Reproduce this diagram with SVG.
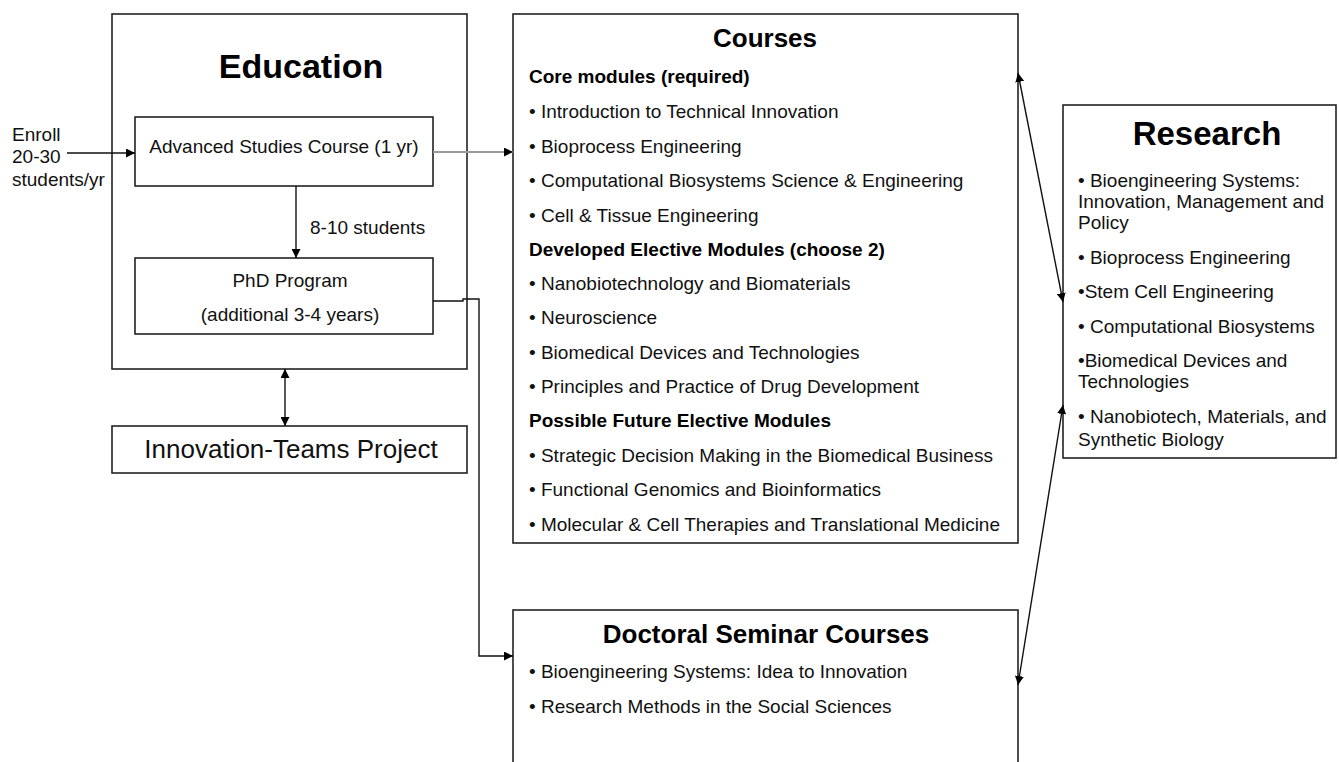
<svg xmlns="http://www.w3.org/2000/svg" width="1339" height="762" viewBox="0 0 1339 762">
<style>
.box{fill:#fff;stroke:#222;stroke-width:1.6}
.t{font-family:"Liberation Sans",Arial,sans-serif;font-size:19px;fill:#111}
.b{font-family:"Liberation Sans",Arial,sans-serif;font-weight:bold;fill:#000}
.c{text-anchor:middle}
.ln{fill:none;stroke:#111;stroke-width:1.4}
</style>
<defs>
<marker id="ah" viewBox="0 0 10 10" refX="10" refY="5" markerWidth="9" markerHeight="9" markerUnits="userSpaceOnUse" orient="auto-start-reverse">
<path d="M0,0 L10,5 L0,10 z" fill="#000"/>
</marker>
</defs>
<rect width="1339" height="762" fill="#fff"/>

<g id="enroll">
<text class="t" x="12" y="141">Enroll</text>
<text class="t" x="12" y="163">20-30</text>
<text class="t" x="12" y="186">students/yr</text>
</g>

<g id="education">
<rect class="box" x="112" y="14" width="355" height="355"/>
<text class="b c" x="301" y="78" font-size="34">Education</text>
</g>
<g id="advanced">
<rect class="box" x="135" y="117" width="298" height="69"/>
<text class="t c" x="284" y="153">Advanced Studies Course (1 yr)</text>
</g>
<text id="label-8-10" class="t" x="310" y="234">8-10 students</text>
<g id="phd">
<rect class="box" x="135" y="258" width="298" height="76"/>
<text class="t c" x="290" y="287">PhD Program</text>
<text class="t c" x="290" y="321">(additional 3-4 years)</text>
</g>
<g id="innovation">
<rect class="box" x="112" y="426" width="355" height="47"/>
<text class="t c" x="291" y="458" style="font-size:26px">Innovation-Teams Project</text>
</g>

<g id="courses">
<rect class="box" x="513" y="14" width="505" height="529"/>
<text class="b c" x="765" y="47" font-size="26">Courses</text>
<text class="b" x="529" y="83" font-size="19">Core modules (required)</text>
<text class="t" x="529" y="118">• Introduction to Technical Innovation</text>
<text class="t" x="529" y="153">• Bioprocess Engineering</text>
<text class="t" x="529" y="187">• Computational Biosystems Science &amp; Engineering</text>
<text class="t" x="529" y="222">• Cell &amp; Tissue Engineering</text>
<text class="b" x="529" y="256" font-size="19">Developed Elective Modules (choose 2)</text>
<text class="t" x="529" y="290">• Nanobiotechnology and Biomaterials</text>
<text class="t" x="529" y="324">• Neuroscience</text>
<text class="t" x="529" y="359">• Biomedical Devices and Technologies</text>
<text class="t" x="529" y="393">• Principles and Practice of Drug Development</text>
<text class="b" x="529" y="427" font-size="19">Possible Future Elective Modules</text>
<text class="t" x="529" y="462">• Strategic Decision Making in the Biomedical Business</text>
<text class="t" x="529" y="496">• Functional Genomics and Bioinformatics</text>
<text class="t" x="529" y="531">• Molecular &amp; Cell Therapies and Translational Medicine</text>
</g>

<g id="doctoral">
<rect class="box" x="513" y="610" width="505" height="170"/>
<text class="b c" x="766" y="643" font-size="26">Doctoral Seminar Courses</text>
<text class="t" x="529" y="678">• Bioengineering Systems: Idea to Innovation</text>
<text class="t" x="529" y="713">• Research Methods in the Social Sciences</text>
</g>

<g id="research">
<rect class="box" x="1063" y="105" width="273" height="353"/>
<text class="b c" x="1207" y="145" font-size="33">Research</text>
<text class="t" x="1078" y="187">• Bioengineering Systems:</text>
<text class="t" x="1078" y="208">Innovation, Management and</text>
<text class="t" x="1078" y="229">Policy</text>
<text class="t" x="1078" y="264">• Bioprocess Engineering</text>
<text class="t" x="1078" y="298">•Stem Cell Engineering</text>
<text class="t" x="1078" y="333">• Computational Biosystems</text>
<text class="t" x="1078" y="367">•Biomedical Devices and</text>
<text class="t" x="1078" y="388">Technologies</text>
<text class="t" x="1078" y="423">• Nanobiotech, Materials, and</text>
<text class="t" x="1078" y="446">Synthetic Biology</text>
</g>

<g id="connectors">
<line class="ln" x1="67" y1="153" x2="135" y2="153" marker-end="url(#ah)"/>
<line class="ln" x1="296" y1="186" x2="296" y2="258" marker-end="url(#ah)"/>
<line x1="433" y1="152" x2="513" y2="152" stroke="#9a9a9a" stroke-width="2" marker-end="url(#ah)"/>
<line class="ln" x1="285" y1="369" x2="285" y2="426" marker-start="url(#ah)" marker-end="url(#ah)"/>
<path class="ln" d="M433,301 L463,301 L463,299 L479,299 L479,656 L513,656" marker-end="url(#ah)"/>
<line class="ln" x1="1018" y1="73" x2="1063" y2="302" marker-start="url(#ah)" marker-end="url(#ah)"/>
<line class="ln" x1="1063" y1="405" x2="1018" y2="685" marker-start="url(#ah)" marker-end="url(#ah)"/>
</g>
</svg>
